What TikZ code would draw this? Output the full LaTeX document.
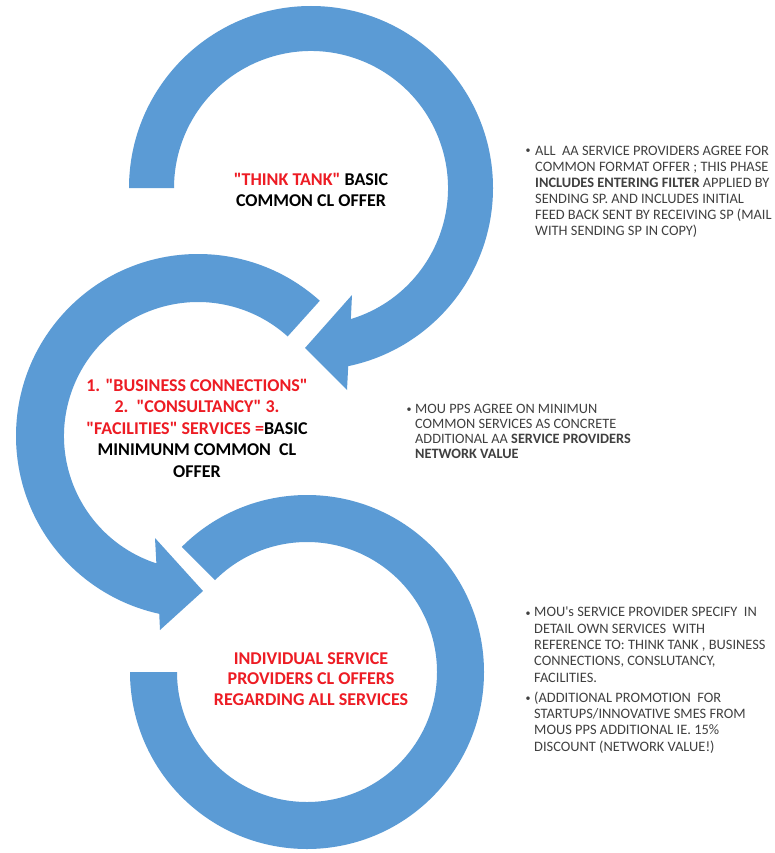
\documentclass[tikz,border=0pt]{standalone}
\usepackage{fontspec}
\setmainfont{Carlito}[Ligatures=TeXOff]
\definecolor{arrowblue}{RGB}{91,155,213}
\definecolor{txtred}{RGB}{237,28,36}
\definecolor{txtgray}{RGB}{64,64,64}
\newcommand{\dq}{\char34\relax}
\begin{document}
\begin{tikzpicture}[x=1pt,y=-1pt,
  arrowfill/.style={fill=arrowblue},
  bigtxt/.style={font=\bfseries\fontsize{18}{20.5}\selectfont, align=center, inner sep=0pt, text=black},
  smalltxt/.style={font=\fontsize{14.4}{16}\selectfont, align=left, inner sep=0pt, text=txtgray, anchor=base west},
  bulletmark/.style={font=\fontsize{10}{10}\selectfont, inner sep=0pt, text=txtgray, anchor=base}]
\fill[white] (0,0) rectangle (774,853);
\useasboundingbox (0,0) rectangle (774,853);

% top circular arrow
\fill[arrowfill] ([shift={(180:182)}]311,188) arc[start angle=180,end angle=438.2,radius=182]
  -- (347,390) -- (305,348) -- (352,295)
  -- ([shift={(73.1:137)}]311,188) arc[start angle=73.1,end angle=-180,radius=137] -- cycle;

% middle circular arrow
\fill[arrowfill] ([shift={(312:182)}]198,436) arc[start angle=312,end angle=102.3,radius=182]
  -- (160,630) -- (203,591) -- (155,538)
  -- ([shift={(108.1:134)}]198,436) arc[start angle=108.1,end angle=312,radius=134] -- cycle;

% bottom circular band
\fill[arrowfill] ([shift={(225:177)}]307,672) arc[start angle=225,end angle=540,radius=177]
  -- ([shift={(180:130)}]307,672) arc[start angle=540,end angle=225,radius=130] -- cycle;

% centre texts (anchor = baseline of the last line)
\node[bigtxt, anchor=base] (ta) at (311,206)
  {\textcolor{txtred}{\dq THINK TANK\dq} BASIC\\COMMON CL OFFER};
\node[bigtxt, anchor=base, font=\bfseries\fontsize{18}{21.5}\selectfont] (tb) at (197,477)
  {\textcolor{txtred}{1. \dq BUSINESS CONNECTIONS\dq}\\
   \textcolor{txtred}{2.~~\dq CONSULTANCY\dq{} 3.}\\
   \textcolor{txtred}{\dq FACILITIES\dq{} SERVICES =}BASIC\\
   MINIMUNM COMMON~~CL\\
   OFFER};
\node[bigtxt, anchor=base, text=txtred] (tc) at (311,705)
  {INDIVIDUAL SERVICE\\PROVIDERS CL OFFERS\\REGARDING ALL SERVICES};

% right-hand notes
\node[bulletmark] (b1) at (528,154) {•};
\node[smalltxt] (n1) at (535,235)
  {ALL~~AA SERVICE PROVIDERS AGREE FOR\\
   COMMON FORMAT OFFER ; THIS PHASE\\
   \textbf{INCLUDES ENTERING FILTER} APPLIED BY\\
   SENDING SP. AND INCLUDES INITIAL\\
   FEED BACK SENT BY RECEIVING SP (MAIL\\
   WITH SENDING SP IN COPY)};

\node[bulletmark] (b2) at (409,412) {•};
\node[smalltxt, font=\fontsize{14.3}{15}\selectfont] (n2) at (415,458)
  {MOU PPS AGREE ON MINIMUN\\
   COMMON SERVICES AS CONCRETE\\
   ADDITIONAL AA \textbf{SERVICE PROVIDERS}\\
   \textbf{NETWORK VALUE}};

\node[bulletmark] (b3) at (528,616) {•};
\node[smalltxt, font=\fontsize{14.4}{16.3}\selectfont] (n3) at (534,682)
  {MOU's SERVICE PROVIDER SPECIFY~~IN\\
   DETAIL OWN SERVICES~~WITH\\
   REFERENCE TO: THINK TANK , BUSINESS\\
   CONNECTIONS, CONSLUTANCY,\\
   FACILITIES.};
\node[bulletmark] (b4) at (528,701) {•};
\node[smalltxt, font=\fontsize{14.4}{16.3}\selectfont] (n4) at (534,751)
  {(ADDITIONAL PROMOTION~~FOR\\
   STARTUPS/INNOVATIVE SMES FROM\\
   MOUS PPS ADDITIONAL IE. 15\%\\
   DISCOUNT (NETWORK VALUE!)};
\end{tikzpicture}
\end{document}
